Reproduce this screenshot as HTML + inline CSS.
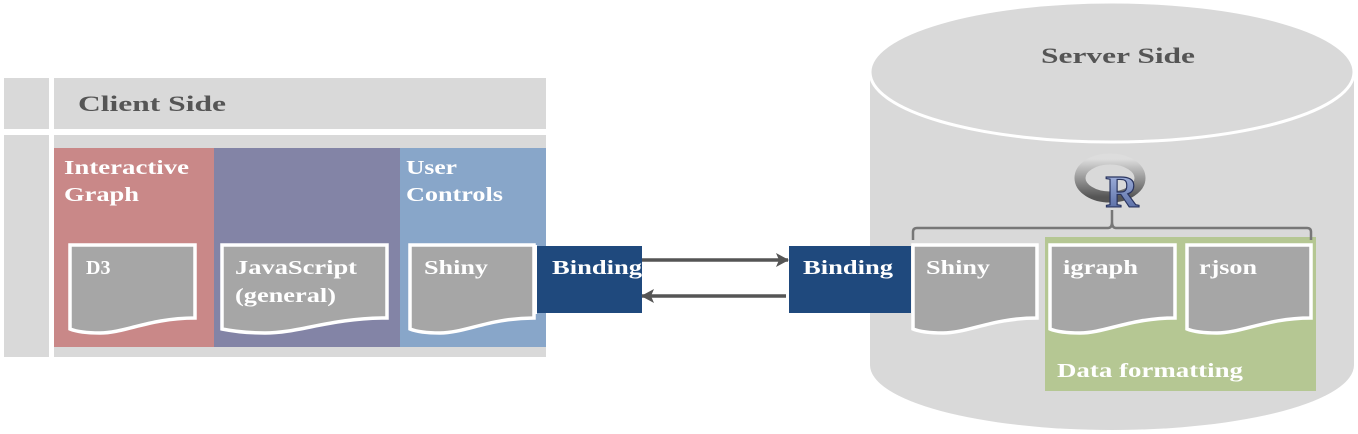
<!DOCTYPE html>
<html><head><style>body{margin:0;background:#fff}svg{display:block}text{font-family:"Liberation Serif",serif;font-weight:bold}</style></head><body>
<svg width="1358" height="434" viewBox="0 0 1358 434" xmlns="http://www.w3.org/2000/svg">
<defs>
<marker id="ah" markerWidth="14" markerHeight="14" refX="12" refY="7" orient="auto" markerUnits="userSpaceOnUse"><path d="M0,0 L13,7 L0,14 L3,7Z" fill="#555"/></marker>
<linearGradient id="rg" x1="0" y1="0" x2="0" y2="1"><stop offset="0" stop-color="#ddd"/><stop offset="1" stop-color="#555"/></linearGradient>
<linearGradient id="rb" x1="0" y1="0" x2="0" y2="1"><stop offset="0" stop-color="#b0c0e8"/><stop offset="1" stop-color="#4a5f9a"/></linearGradient>
</defs>
<rect x="4" y="78" width="45" height="51" fill="#d9d9d9"/>
<rect x="54" y="78" width="492" height="51" fill="#d9d9d9"/>
<rect x="4" y="135" width="45" height="222" fill="#d9d9d9"/>
<rect x="54" y="135" width="492" height="222" fill="#d9d9d9"/>
<text x="78" y="111" font-size="22" fill="#555" textLength="148" lengthAdjust="spacingAndGlyphs">Client Side</text>
<rect x="54" y="148" width="160" height="199" fill="#c98888"/>
<rect x="214" y="148" width="186" height="199" fill="#8384a6"/>
<rect x="400" y="148" width="146" height="199" fill="#88a6c9"/>
<g font-size="20" fill="#fff">
<text x="64" y="174" textLength="125" lengthAdjust="spacingAndGlyphs">Interactive</text>
<text x="64" y="201" textLength="75" lengthAdjust="spacingAndGlyphs">Graph</text>
<text x="406" y="174" textLength="51" lengthAdjust="spacingAndGlyphs">User</text>
<text x="406" y="201" textLength="97" lengthAdjust="spacingAndGlyphs">Controls</text>
</g>
<g stroke="#fff" stroke-width="3.5" fill="#a6a6a6">
<path d="M70,245 H195 V318 C150,318 125,333 100,333 C85,333 75,331 70,329 Z"/>
<path d="M222,245 H387 V318 C330,318 300,333 265,333 C245,333 232,331 222,329 Z"/>
<path d="M410,245 H534 V318 C490,318 465,333 440,333 C425,333 415,331 410,329 Z"/>
</g>
<rect x="537" y="246" width="105" height="67" fill="#1f497d"/>
<rect x="534" y="245" width="3" height="69" fill="#fff"/>
<g font-size="20" fill="#fff">
<text x="86" y="274">D3</text>
<text x="235" y="274" textLength="122" lengthAdjust="spacingAndGlyphs">JavaScript</text>
<text x="235" y="302" textLength="101" lengthAdjust="spacingAndGlyphs">(general)</text>
<text x="424" y="274" textLength="64" lengthAdjust="spacingAndGlyphs">Shiny</text>
<text x="552" y="274" textLength="90" lengthAdjust="spacingAndGlyphs">Binding</text>
</g>
<line x1="642" y1="260" x2="788" y2="260" stroke="#555" stroke-width="3.5" marker-end="url(#ah)"/>
<line x1="786" y1="296" x2="642" y2="296" stroke="#555" stroke-width="3.5" marker-end="url(#ah)"/>
<path d="M870,72 V365 A242,65 0 0 0 1354,365 V72 Z" fill="#d9d9d9"/>
<ellipse cx="1112" cy="72" rx="242" ry="70" fill="#d9d9d9" stroke="#fff" stroke-width="3"/>
<text x="1041" y="63" font-size="22" fill="#555" textLength="154" lengthAdjust="spacingAndGlyphs">Server Side</text>
<rect x="1045" y="237" width="271" height="154" fill="#b5c793"/>
<text x="1057" y="377" font-size="20" fill="#fff" textLength="186" lengthAdjust="spacingAndGlyphs">Data formatting</text>
<g stroke="#fff" stroke-width="3.5" fill="#a6a6a6">
<path d="M913,245 H1037 V318 C993,318 968,333 943,333 C928,333 918,331 913,329 Z"/>
<path d="M1050,245 H1175 V318 C1130,318 1105,333 1080,333 C1065,333 1055,331 1050,329 Z"/>
<path d="M1187,245 H1311 V318 C1267,318 1242,333 1217,333 C1202,333 1192,331 1187,329 Z"/>
</g>
<rect x="789" y="246" width="122" height="67" fill="#1f497d"/>
<g font-size="20" fill="#fff">
<text x="803" y="274" textLength="90" lengthAdjust="spacingAndGlyphs">Binding</text>
<text x="926" y="274" textLength="64" lengthAdjust="spacingAndGlyphs">Shiny</text>
<text x="1063" y="274" textLength="75" lengthAdjust="spacingAndGlyphs">igraph</text>
<text x="1199" y="274" textLength="58" lengthAdjust="spacingAndGlyphs">rjson</text>
</g>
<path d="M913,240 V232 Q913,228 917,228 H1108 Q1112,228 1112,222 V210 M1112,222 Q1112,228 1116,228 H1307 Q1311,228 1311,232 V240" fill="none" stroke="#777" stroke-width="2.5"/>
<ellipse cx="1110" cy="178" rx="30" ry="19" fill="none" stroke="url(#rg)" stroke-width="11"/>
<text x="1122" y="207" font-size="46" text-anchor="middle" fill="url(#rb)" stroke="#2a3560" stroke-width="1.2" font-family="Liberation Sans,sans-serif">R</text>
</svg>
</body></html>
